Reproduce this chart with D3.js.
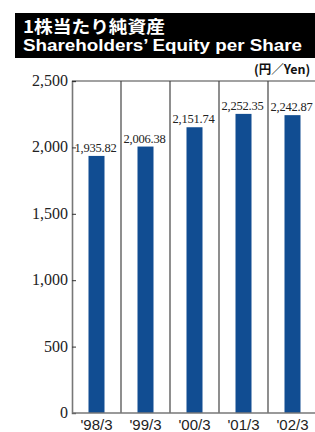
<!DOCTYPE html>
<html><head><meta charset="utf-8">
<script src="https://cdn.jsdelivr.net/npm/d3@7"></script>
<style>body{margin:0;background:#fff}svg{display:block}</style>
</head><body>
<script>
const categories = ["'98/3","'99/3","'00/3","'01/3","'02/3"];
const values = [1935.82, 2006.38, 2151.74, 2252.35, 2242.87];
const valueLabels = ["1,935.82","2,006.38","2,151.74","2,252.35","2,242.87"];
const yTicks = [0, 500, 1000, 1500, 2000, 2500];
const yTickLabels = ["0","500","1,000","1,500","2,000","2,500"];

const W = 315, H = 432;
const svg = d3.select("body").append("svg").attr("width", W).attr("height", H);

// Title block
svg.append("rect").attr("x", 15).attr("y", 13).attr("width", 300).attr("height", 45).attr("fill", "#000");
svg.append("text").attr("x", 23).attr("y", 33).attr("fill", "#fff")
  .attr("font-family", "'Noto Sans CJK JP', sans-serif").attr("font-weight", "bold").attr("font-size", 17.5)
  .attr("textLength", 142).attr("lengthAdjust", "spacingAndGlyphs").text("1株当たり純資産");
svg.append("text").attr("x", 23).attr("y", 50.5).attr("fill", "#fff")
  .attr("font-family", "'Liberation Sans', Arial, sans-serif").attr("font-weight", "bold").attr("font-size", 16.5)
  .attr("textLength", 279).attr("lengthAdjust", "spacingAndGlyphs").text("Shareholders\u2019 Equity per Share");
svg.append("text").attr("x", 254).attr("y", 74).attr("fill", "#111")
  .attr("font-family", "'Noto Sans CJK JP', sans-serif").attr("font-weight", "bold").attr("font-size", 12.5)
  .text("(円／Yen)");

const x = d3.scaleBand().domain(categories).range([72, 317]).padding(0);
const y = d3.scaleLinear().domain([0, 2500]).range([413, 81]);

// bars
svg.selectAll("rect.bar").data(values).join("rect").attr("class", "bar")
  .attr("x", (d, i) => x(categories[i]) + x.bandwidth() / 2 - 8)
  .attr("width", 16)
  .attr("y", d => y(d)).attr("height", d => y(0) - y(d))
  .attr("fill", "#114d92");

// frame: top line, dividers
svg.append("line").attr("x1", 72).attr("x2", 317).attr("y1", y(2500)).attr("y2", y(2500))
  .attr("stroke", "#444").attr("stroke-width", 1.2);
svg.selectAll("line.div").data(categories.slice(1)).join("line").attr("class", "div")
  .attr("x1", d => x(d)).attr("x2", d => x(d)).attr("y1", y(2500)).attr("y2", y(0))
  .attr("stroke", "#444").attr("stroke-width", 1.2);

// y axis
const yAxis = d3.axisRight(y).tickValues(yTicks).tickSize(4).tickFormat("");
const ga = svg.append("g").attr("transform", "translate(72,0)").call(yAxis);
ga.select(".domain").attr("stroke", "#777").attr("stroke-width", 1.6);
ga.selectAll(".tick line").attr("stroke", "#333");
svg.selectAll("text.ylab").data(yTicks).join("text").attr("class", "ylab")
  .attr("x", 68).attr("y", d => y(d) + 5).attr("text-anchor", "end")
  .attr("font-family", "'Liberation Serif', 'Times New Roman', serif").attr("font-size", 16).attr("fill", "#222")
  .text((d, i) => yTickLabels[i]);

// baseline
svg.append("line").attr("x1", 72).attr("x2", 317).attr("y1", y(0)).attr("y2", y(0))
  .attr("stroke", "#777").attr("stroke-width", 1.6);

// x labels
svg.selectAll("text.xlab").data(categories).join("text").attr("class", "xlab")
  .attr("x", d => x(d) + x.bandwidth() / 2).attr("y", 430).attr("text-anchor", "middle")
  .attr("font-family", "'Liberation Sans', Arial, sans-serif").attr("font-size", 15).attr("fill", "#222")
  .text(d => d);

// value labels
svg.selectAll("text.vlab").data(values).join("text").attr("class", "vlab")
  .attr("x", (d, i) => x(categories[i]) + x.bandwidth() / 2 - 1).attr("y", d => y(d) - 4).attr("text-anchor", "middle")
  .attr("font-family", "'Liberation Serif', 'Times New Roman', serif").attr("font-size", 12.5).attr("fill", "#222")
  .attr("letter-spacing", -0.2)
  .text((d, i) => valueLabels[i]);
</script>
</body></html>
